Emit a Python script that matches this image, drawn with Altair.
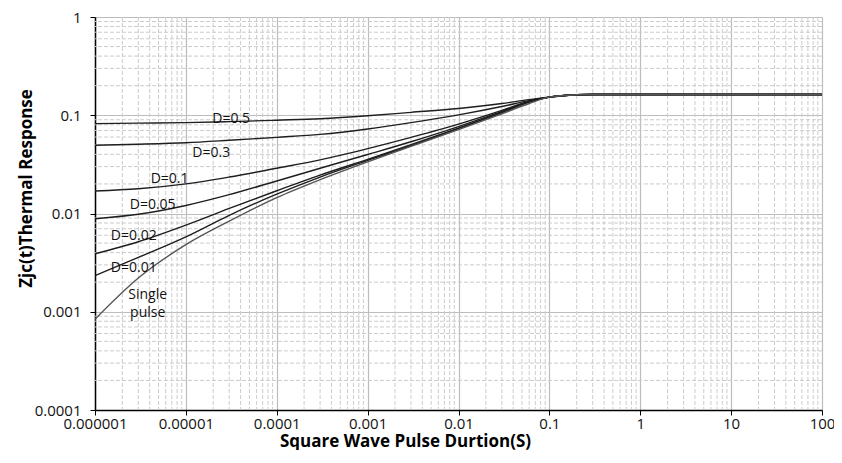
import altair as alt
import pandas as pd

# ---- data ----
x_pts = [1e-6, 3e-6, 1e-5, 3e-5, 1e-4, 3e-4, 1e-3, 3e-3, 1e-2, 3e-2, 0.06, 0.1, 0.2, 0.3, 100]
d05 = [0.08216, 0.08312, 0.08409, 0.08605, 0.08905, 0.09218, 0.09874, 0.1070, 0.1173, 0.1316, 0.1443, 0.1528, 0.1618, 0.1629, 0.1629]
d03 = [0.04959, 0.05073, 0.05252, 0.05561, 0.05959, 0.06383, 0.07243, 0.08409, 0.1010, 0.1228, 0.1410, 0.1528, 0.1618, 0.1629, 0.1629]
d01 = [0.01692, 0.01784, 0.02001, 0.02350, 0.02889, 0.03513, 0.04575, 0.05959, 0.08124, 0.1121, 0.1394, 0.1528, 0.1618, 0.1629, 0.1629]
d005 = [0.008853, 0.009817, 0.01207, 0.01554, 0.02144, 0.02889, 0.03986, 0.05374, 0.07672, 0.1095, 0.1378, 0.1528, 0.1618, 0.1629, 0.1629]
d002 = [0.003891, 0.005161, 0.007626, 0.01127, 0.01704, 0.02460, 0.03553, 0.05014, 0.07410, 0.1070, 0.1362, 0.1528, 0.1618, 0.1629, 0.1629]
d001 = [0.002337, 0.003573, 0.005789, 0.009594, 0.01572, 0.02350, 0.03473, 0.04902, 0.07325, 0.1065, 0.1358, 0.1528, 0.1618, 0.1629, 0.1629]
single = [0.000841, 0.002206, 0.004818, 0.008360, 0.01451, 0.02208, 0.03355, 0.04812, 0.07143, 0.1034, 0.1316, 0.1528, 0.1618, 0.1629, 0.1629]

series = {
    "D=0.5": d05, "D=0.3": d03, "D=0.1": d01, "D=0.05": d005,
    "D=0.02": d002, "D=0.01": d001, "Single pulse": single,
}

label_text = ["D=0.5", "D=0.3", "D=0.1", "D=0.05", "D=0.02", "D=0.01", "Single", "pulse"]
label_x = [3.15e-5, 1.9e-5, 6.62e-6, 4.31e-6, 2.67e-6, 2.67e-6, 3.8e-6, 3.8e-6]
label_y = [0.0912, 0.0417, 0.02245, 0.01208, 0.00592, 0.002776, 0.00149, 0.000964]

x_major = [1e-6, 1e-5, 1e-4, 1e-3, 1e-2, 1e-1, 1, 10, 100]
y_major = [1e-4, 1e-3, 1e-2, 1e-1, 1]
x_minor = [k * 10.0 ** n for n in range(-6, 2) for k in range(2, 10)]
y_minor = [k * 10.0 ** n for n in range(-4, 0) for k in range(2, 10)]

rows = []
for name, vals in series.items():
    for xv, yv in zip(x_pts, vals):
        rows.append({"series": name, "t": xv, "z": yv})
curves = pd.DataFrame(rows)
labels = pd.DataFrame({"txt": label_text, "t": label_x, "z": label_y})
xminor_df = pd.DataFrame({"t": x_minor})
yminor_df = pd.DataFrame({"z": y_minor})

FONT = "Open Sans"

x_scale = alt.Scale(type="log", domain=[1e-6, 100], nice=False)
y_scale = alt.Scale(type="log", domain=[1e-4, 1], nice=False)

x_axis = alt.Axis(
    values=x_major, labelExpr="format(datum.value, '.6~f')",
    labelOverlap=False, labelFlush=False,
    title="Square Wave Pulse Durtion(S)", titleFont=FONT, titleFontSize=17,
    titleFontWeight="bold", titleColor="#000", titleX=310, titleY=36,
    titleAlign="center", titleBaseline="alphabetic", titleAnchor="start",
    labelFont=FONT, labelFontSize=15, labelColor="#111", labelPadding=1,
    domainColor="#000", domainWidth=1.5, tickColor="#000", tickSize=5,
    grid=True, gridColor="#bdbdbd", gridWidth=1.2,
)
y_axis = alt.Axis(
    values=y_major, labelExpr="format(datum.value, '.4~f')",
    labelOverlap=False, labelFlush=False,
    title="Zjc(t)Thermal Response", titleFont=FONT, titleFontSize=17,
    titleFontWeight="bold", titleColor="#000", titleX=-64, titleY=171,
    titleAngle=270, titleAlign="center", titleBaseline="alphabetic",
    titleAnchor="start",
    labelFont=FONT, labelFontSize=15, labelColor="#111", labelPadding=9,
    domainColor="#000", domainWidth=1.5, tickColor="#000", tickSize=5,
    grid=True, gridColor="#bdbdbd", gridWidth=1.2,
)

xminor = alt.Chart(xminor_df).mark_rule(
    color="#cccccc", strokeDash=[4, 2], strokeWidth=1
).encode(x=alt.X("t:Q", scale=x_scale, axis=x_axis))

yminor = alt.Chart(yminor_df).mark_rule(
    color="#cccccc", strokeDash=[4, 2], strokeWidth=1
).encode(y=alt.Y("z:Q", scale=y_scale, axis=y_axis))

lines = alt.Chart(curves).mark_line(interpolate="monotone", strokeWidth=1.4).encode(
    x=alt.X("t:Q", scale=x_scale, axis=x_axis),
    y=alt.Y("z:Q", scale=y_scale, axis=y_axis),
    detail="series:N",
    color=alt.Color(
        "series:N", legend=None,
        scale=alt.Scale(
            domain=list(series.keys()),
            range=["#1e1e1e"] * 6 + ["#555555"],
        ),
    ),
)

texts = alt.Chart(labels).mark_text(
    font=FONT, fontSize=14, color="#111", align="center", baseline="middle"
).encode(
    x=alt.X("t:Q", scale=x_scale, axis=x_axis),
    y=alt.Y("z:Q", scale=y_scale, axis=y_axis),
    text="txt:N",
)

chart = alt.layer(xminor, yminor, lines, texts).properties(
    width=727, height=393,
    autosize=alt.AutoSizeParams(type="none"),
    padding={"left": 87, "top": 9, "right": 12, "bottom": 40},
    background="white",
).configure_view(stroke=None)

chart.save("out.html", embed_options={"renderer": "svg", "actions": False})
